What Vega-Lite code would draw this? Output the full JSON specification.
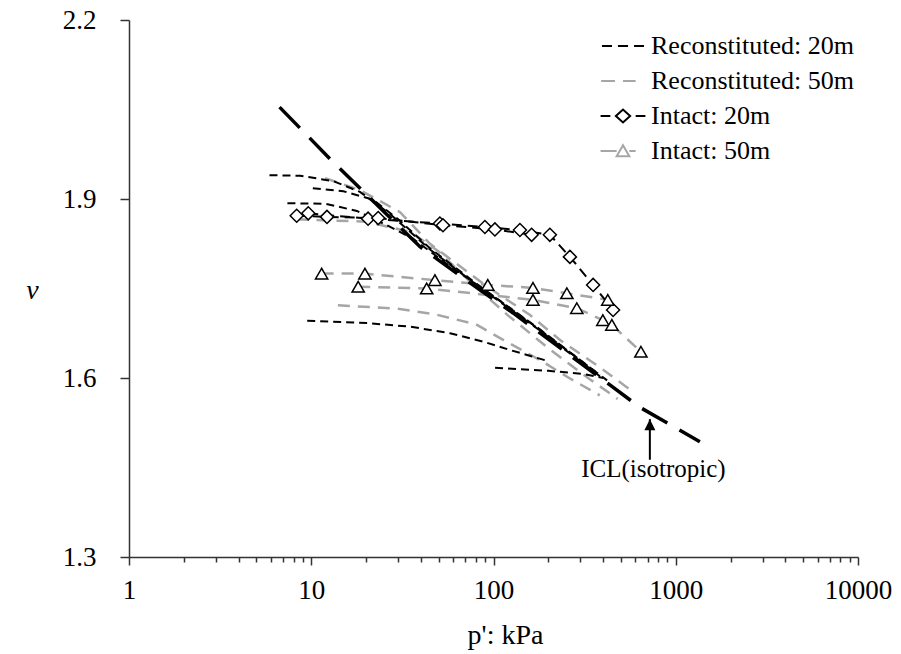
{
  "$schema": "https://vega.github.io/schema/vega-lite/v6.json",
  "width": 729,
  "height": 537,
  "autosize": {"type": "none"},
  "padding": {"left": 129, "top": 20, "right": 43, "bottom": 97},
  "background": "white",
  "config": {
    "view": {"stroke": null},
    "font": "Liberation Serif",
    "axis": {
      "grid": false,
      "domainColor": "#333333",
      "domainWidth": 1.5,
      "tickColor": "#333333",
      "tickWidth": 1.5,
      "labelFont": "Liberation Serif",
      "labelFontSize": 27,
      "labelColor": "black",
      "titleFont": "Liberation Serif",
      "titleFontSize": 28,
      "titleFontWeight": "normal",
      "titleColor": "black"
    },
    "legend": {
      "orient": "none",
      "legendX": 481,
      "legendY": 13,
      "padding": 0,
      "labelFont": "Liberation Serif",
      "labelFontSize": 26,
      "labelColor": "black",
      "labelLimit": 400,
      "symbolSize": 529,
      "symbolStrokeWidth": 2,
      "symbolOpacity": 1,
      "rowPadding": 9,
      "labelOffset": 15
    }
  },
  "datasets": {
    "lines": [
      {"s": "Reconstituted: 20m", "c": "a", "p": 5.9, "v": 1.940},
      {"s": "Reconstituted: 20m", "c": "a", "p": 8.7, "v": 1.939},
      {"s": "Reconstituted: 20m", "c": "a", "p": 13.2, "v": 1.930},
      {"s": "Reconstituted: 20m", "c": "a", "p": 18.5, "v": 1.912},
      {"s": "Reconstituted: 20m", "c": "a", "p": 27, "v": 1.875},
      {"s": "Reconstituted: 20m", "c": "a", "p": 45, "v": 1.815},
      {"s": "Reconstituted: 20m", "c": "a", "p": 84, "v": 1.752},
      {"s": "Reconstituted: 20m", "c": "a", "p": 179, "v": 1.680},
      {"s": "Reconstituted: 20m", "c": "a", "p": 383, "v": 1.603},
      {"s": "Reconstituted: 20m", "c": "b", "p": 10.2, "v": 1.918},
      {"s": "Reconstituted: 20m", "c": "b", "p": 15, "v": 1.913},
      {"s": "Reconstituted: 20m", "c": "b", "p": 21.8, "v": 1.899},
      {"s": "Reconstituted: 20m", "c": "b", "p": 30, "v": 1.866},
      {"s": "Reconstituted: 20m", "c": "b", "p": 45, "v": 1.817},
      {"s": "Reconstituted: 20m", "c": "b", "p": 84, "v": 1.754},
      {"s": "Reconstituted: 20m", "c": "b", "p": 179, "v": 1.681},
      {"s": "Reconstituted: 20m", "c": "b", "p": 420, "v": 1.596},
      {"s": "Reconstituted: 20m", "c": "c", "p": 7.4, "v": 1.893},
      {"s": "Reconstituted: 20m", "c": "c", "p": 12, "v": 1.892},
      {"s": "Reconstituted: 20m", "c": "c", "p": 17.8, "v": 1.880},
      {"s": "Reconstituted: 20m", "c": "c", "p": 26, "v": 1.856},
      {"s": "Reconstituted: 20m", "c": "c", "p": 36, "v": 1.834},
      {"s": "Reconstituted: 20m", "c": "c", "p": 55, "v": 1.792},
      {"s": "Reconstituted: 20m", "c": "c", "p": 100, "v": 1.737},
      {"s": "Reconstituted: 20m", "c": "c", "p": 179, "v": 1.682},
      {"s": "Reconstituted: 20m", "c": "c", "p": 383, "v": 1.605},
      {"s": "Reconstituted: 20m", "c": "d", "p": 9.5, "v": 1.696},
      {"s": "Reconstituted: 20m", "c": "d", "p": 20.2, "v": 1.692},
      {"s": "Reconstituted: 20m", "c": "d", "p": 35, "v": 1.686},
      {"s": "Reconstituted: 20m", "c": "d", "p": 57.7, "v": 1.675},
      {"s": "Reconstituted: 20m", "c": "d", "p": 90, "v": 1.660},
      {"s": "Reconstituted: 20m", "c": "d", "p": 123, "v": 1.647},
      {"s": "Reconstituted: 20m", "c": "d", "p": 196, "v": 1.629},
      {"s": "Reconstituted: 20m", "c": "e", "p": 102, "v": 1.617},
      {"s": "Reconstituted: 20m", "c": "e", "p": 200, "v": 1.612},
      {"s": "Reconstituted: 20m", "c": "e", "p": 309, "v": 1.607},
      {"s": "Reconstituted: 20m", "c": "e", "p": 400, "v": 1.600},
      {"s": "Reconstituted: 50m", "c": "f", "p": 11.9, "v": 1.935},
      {"s": "Reconstituted: 50m", "c": "f", "p": 18.5, "v": 1.915},
      {"s": "Reconstituted: 50m", "c": "f", "p": 30.7, "v": 1.878},
      {"s": "Reconstituted: 50m", "c": "f", "p": 44.8, "v": 1.825},
      {"s": "Reconstituted: 50m", "c": "f", "p": 57.6, "v": 1.800},
      {"s": "Reconstituted: 50m", "c": "f", "p": 95.5, "v": 1.750},
      {"s": "Reconstituted: 50m", "c": "f", "p": 158, "v": 1.706},
      {"s": "Reconstituted: 50m", "c": "f", "p": 231, "v": 1.664},
      {"s": "Reconstituted: 50m", "c": "f", "p": 383, "v": 1.618},
      {"s": "Reconstituted: 50m", "c": "f", "p": 582, "v": 1.577},
      {"s": "Reconstituted: 50m", "c": "g", "p": 14, "v": 1.722},
      {"s": "Reconstituted: 50m", "c": "g", "p": 30, "v": 1.716},
      {"s": "Reconstituted: 50m", "c": "g", "p": 48.9, "v": 1.706},
      {"s": "Reconstituted: 50m", "c": "g", "p": 80, "v": 1.690},
      {"s": "Reconstituted: 50m", "c": "g", "p": 113, "v": 1.664},
      {"s": "Reconstituted: 50m", "c": "g", "p": 180, "v": 1.630},
      {"s": "Reconstituted: 50m", "c": "g", "p": 260, "v": 1.600},
      {"s": "Reconstituted: 50m", "c": "g", "p": 383, "v": 1.571},
      {"s": "Reconstituted: 50m", "c": "h", "p": 8.3, "v": 1.866},
      {"s": "Reconstituted: 50m", "c": "h", "p": 20, "v": 1.862},
      {"s": "Reconstituted: 50m", "c": "h", "p": 35, "v": 1.845},
      {"s": "Reconstituted: 50m", "c": "h", "p": 50, "v": 1.812},
      {"s": "Reconstituted: 50m", "c": "h", "p": 74, "v": 1.762},
      {"s": "Reconstituted: 50m", "c": "h", "p": 120, "v": 1.705},
      {"s": "Reconstituted: 50m", "c": "h", "p": 200, "v": 1.650},
      {"s": "Reconstituted: 50m", "c": "h", "p": 330, "v": 1.600},
      {"s": "Reconstituted: 50m", "c": "h", "p": 480, "v": 1.565},
      {"s": "Intact: 20m", "c": "i1", "p": 8.32, "v": 1.872},
      {"s": "Intact: 20m", "c": "i1", "p": 12.2, "v": 1.870},
      {"s": "Intact: 20m", "c": "i1", "p": 23.3, "v": 1.868},
      {"s": "Intact: 20m", "c": "i1", "p": 52.8, "v": 1.856},
      {"s": "Intact: 20m", "c": "i1", "p": 101.8, "v": 1.849},
      {"s": "Intact: 20m", "c": "i1", "p": 161.9, "v": 1.840},
      {"s": "Intact: 20m", "c": "i2", "p": 9.63, "v": 1.876},
      {"s": "Intact: 20m", "c": "i2", "p": 20.5, "v": 1.867},
      {"s": "Intact: 20m", "c": "i2", "p": 50.8, "v": 1.859},
      {"s": "Intact: 20m", "c": "i2", "p": 89.7, "v": 1.853},
      {"s": "Intact: 20m", "c": "i2", "p": 139.6, "v": 1.848},
      {"s": "Intact: 20m", "c": "i2", "p": 203.8, "v": 1.840},
      {"s": "Intact: 20m", "c": "i2", "p": 262.6, "v": 1.803},
      {"s": "Intact: 20m", "c": "i2", "p": 352, "v": 1.756},
      {"s": "Intact: 20m", "c": "i2", "p": 453, "v": 1.714},
      {"s": "Intact: 50m", "c": "t1", "p": 11.4, "v": 1.775},
      {"s": "Intact: 50m", "c": "t1", "p": 19.7, "v": 1.775},
      {"s": "Intact: 50m", "c": "t1", "p": 47.7, "v": 1.764},
      {"s": "Intact: 50m", "c": "t1", "p": 93, "v": 1.756},
      {"s": "Intact: 50m", "c": "t1", "p": 164.6, "v": 1.751},
      {"s": "Intact: 50m", "c": "t1", "p": 252.7, "v": 1.742},
      {"s": "Intact: 50m", "c": "t1", "p": 423.6, "v": 1.731},
      {"s": "Intact: 50m", "c": "t2", "p": 18.1, "v": 1.753},
      {"s": "Intact: 50m", "c": "t2", "p": 43, "v": 1.750},
      {"s": "Intact: 50m", "c": "t2", "p": 164.6, "v": 1.731},
      {"s": "Intact: 50m", "c": "t2", "p": 286.5, "v": 1.717},
      {"s": "Intact: 50m", "c": "t2", "p": 398, "v": 1.697},
      {"s": "Intact: 50m", "c": "t2", "p": 446, "v": 1.689},
      {"s": "Intact: 50m", "c": "t2", "p": 644, "v": 1.644}
    ],
    "icl": [
      {"p": 6.7, "v": 2.054},
      {"p": 12.7, "v": 1.967},
      {"p": 25, "v": 1.879},
      {"p": 39.5, "v": 1.820},
      {"p": 70, "v": 1.765},
      {"p": 128, "v": 1.709},
      {"p": 300, "v": 1.625},
      {"p": 635, "v": 1.551},
      {"p": 1356, "v": 1.493}
    ],
    "pts": [
      {"s": "Intact: 20m", "p": 8.32, "v": 1.872},
      {"s": "Intact: 20m", "p": 9.63, "v": 1.876},
      {"s": "Intact: 20m", "p": 12.2, "v": 1.870},
      {"s": "Intact: 20m", "p": 20.5, "v": 1.867},
      {"s": "Intact: 20m", "p": 23.3, "v": 1.868},
      {"s": "Intact: 20m", "p": 50.8, "v": 1.859},
      {"s": "Intact: 20m", "p": 52.8, "v": 1.856},
      {"s": "Intact: 20m", "p": 89.7, "v": 1.853},
      {"s": "Intact: 20m", "p": 101.8, "v": 1.849},
      {"s": "Intact: 20m", "p": 139.6, "v": 1.848},
      {"s": "Intact: 20m", "p": 161.9, "v": 1.840},
      {"s": "Intact: 20m", "p": 203.8, "v": 1.840},
      {"s": "Intact: 20m", "p": 262.6, "v": 1.803},
      {"s": "Intact: 20m", "p": 352, "v": 1.756},
      {"s": "Intact: 20m", "p": 453, "v": 1.714},
      {"s": "Intact: 50m", "p": 11.4, "v": 1.775},
      {"s": "Intact: 50m", "p": 19.7, "v": 1.775},
      {"s": "Intact: 50m", "p": 18.1, "v": 1.753},
      {"s": "Intact: 50m", "p": 43, "v": 1.750},
      {"s": "Intact: 50m", "p": 47.7, "v": 1.764},
      {"s": "Intact: 50m", "p": 93, "v": 1.756},
      {"s": "Intact: 50m", "p": 164.6, "v": 1.751},
      {"s": "Intact: 50m", "p": 164.6, "v": 1.731},
      {"s": "Intact: 50m", "p": 252.7, "v": 1.742},
      {"s": "Intact: 50m", "p": 286.5, "v": 1.717},
      {"s": "Intact: 50m", "p": 423.6, "v": 1.731},
      {"s": "Intact: 50m", "p": 398, "v": 1.697},
      {"s": "Intact: 50m", "p": 446, "v": 1.689},
      {"s": "Intact: 50m", "p": 644, "v": 1.644}
    ],
    "notes": [
      {"kind": "arrow", "p": 721, "v": 1.531, "v2": 1.463},
      {"kind": "label", "p": 754, "v": 1.448, "label": "ICL(isotropic)"}
    ]
  },
  "encoding": {
    "x": {
      "field": "p",
      "type": "quantitative",
      "scale": {"type": "log", "domain": [1, 10000], "nice": false},
      "axis": {
        "values": [1, 2, 3, 4, 5, 6, 7, 8, 9, 10, 20, 30, 40, 50, 60, 70, 80, 90, 100, 200, 300, 400, 500, 600, 700, 800, 900, 1000, 2000, 3000, 4000, 5000, 6000, 7000, 8000, 9000, 10000],
        "labelExpr": "indexof([1,10,100,1000,10000], datum.value) >= 0 ? format(datum.value, 'd') : ''",
        "tickSize": {"condition": {"test": "indexof([1,10,100,1000,10000], datum.value) >= 0", "value": 8}, "value": 5},
        "labelOverlap": false,
        "labelFlush": false,
        "labelBound": false,
        "labelPadding": 12,
        "title": "p': kPa",
        "titleX": 376,
        "titleY": 78,
        "titleAlign": "center",
        "titleBaseline": "middle"
      }
    },
    "y": {
      "field": "v",
      "type": "quantitative",
      "scale": {"domain": [1.3, 2.2], "nice": false, "zero": false},
      "axis": {
        "values": [1.3, 1.6, 1.9, 2.2],
        "format": ".1f",
        "tickSize": 9,
        "labelPadding": 24,
        "title": "v",
        "titleFontStyle": "italic",
        "titleAngle": 0,
        "titleX": -97,
        "titleY": 270,
        "titleAlign": "center",
        "titleBaseline": "middle"
      }
    }
  },
  "layer": [
    {
      "data": {"name": "lines"},
      "transform": [{"filter": "datum.s == 'Reconstituted: 50m'"}],
      "mark": {"type": "line", "color": "#a6a6a6", "strokeWidth": 2.5, "strokeDash": [12, 8]},
      "encoding": {"detail": {"field": "c"}}
    },
    {
      "data": {"name": "lines"},
      "transform": [{"filter": "datum.s == 'Intact: 50m'"}],
      "mark": {"type": "line", "color": "#a6a6a6", "strokeWidth": 2.5, "strokeDash": [12, 8]},
      "encoding": {"detail": {"field": "c"}}
    },
    {
      "data": {"name": "lines"},
      "transform": [{"filter": "datum.s == 'Reconstituted: 20m'"}],
      "mark": {"type": "line", "color": "black", "strokeWidth": 2, "strokeDash": [8, 5]},
      "encoding": {"detail": {"field": "c"}}
    },
    {
      "data": {"name": "lines"},
      "transform": [{"filter": "datum.s == 'Intact: 20m'"}],
      "mark": {"type": "line", "color": "black", "strokeWidth": 2, "strokeDash": [10, 6]},
      "encoding": {"detail": {"field": "c"}}
    },
    {
      "data": {"name": "icl"},
      "mark": {"type": "line", "color": "black", "strokeWidth": 3.5, "strokeDash": [29, 14]},
      "encoding": {}
    },
    {
      "data": {"name": "pts"},
      "transform": [{"filter": "datum.s == 'Intact: 20m'"}],
      "mark": {"type": "point", "shape": "diamond", "filled": true, "fill": "white", "stroke": "black", "strokeWidth": 1.5, "size": 170, "opacity": 1},
      "encoding": {}
    },
    {
      "data": {"name": "pts"},
      "transform": [{"filter": "datum.s == 'Intact: 50m'"}],
      "mark": {"type": "point", "shape": "triangle-up", "filled": true, "fill": "white", "stroke": "black", "strokeWidth": 1.5, "size": 150, "opacity": 1},
      "encoding": {}
    },
    {
      "data": {"name": "lines"},
      "mark": {"type": "point", "filled": false, "opacity": 0, "size": 529, "strokeWidth": 2},
      "encoding": {
        "stroke": {
          "field": "s",
          "type": "nominal",
          "scale": {
            "domain": ["Reconstituted: 20m", "Reconstituted: 50m", "Intact: 20m", "Intact: 50m"],
            "range": ["black", "#a6a6a6", "black", "#a6a6a6"]
          },
          "legend": {"title": null}
        },
        "shape": {
          "field": "s",
          "type": "nominal",
          "scale": {
            "domain": ["Reconstituted: 20m", "Reconstituted: 50m", "Intact: 20m", "Intact: 50m"],
            "range": [
              "M-1.83,0H-0.96M-0.44,0H0.44M0.96,0H1.83",
              "M-1.9,0H-0.7M0,0H1.1",
              "M-1.95,0H-1.1M-0.62,0L0,-0.56L0.62,0L0,0.56ZM1.1,0H1.95",
              "M-1.95,0H-0.55M-0.55,0.45L0,-0.5L0.55,0.45ZM0.55,0H1.1"
            ]
          },
          "legend": {"title": null}
        }
      }
    },
    {
      "data": {"name": "notes"},
      "transform": [{"filter": "datum.kind == 'arrow'"}],
      "mark": {"type": "rule", "color": "black", "strokeWidth": 2},
      "encoding": {"y2": {"field": "v2"}}
    },
    {
      "data": {"name": "notes"},
      "transform": [{"filter": "datum.kind == 'arrow'"}],
      "mark": {"type": "point", "shape": "M0,0L0.5,1L-0.5,1Z", "filled": true, "color": "black", "size": 484, "opacity": 1},
      "encoding": {}
    },
    {
      "data": {"name": "notes"},
      "transform": [{"filter": "datum.kind == 'label'"}],
      "mark": {"type": "text", "font": "Liberation Serif", "fontSize": 25, "color": "black", "align": "center", "baseline": "middle"},
      "encoding": {"text": {"field": "label"}}
    }
  ]
}
